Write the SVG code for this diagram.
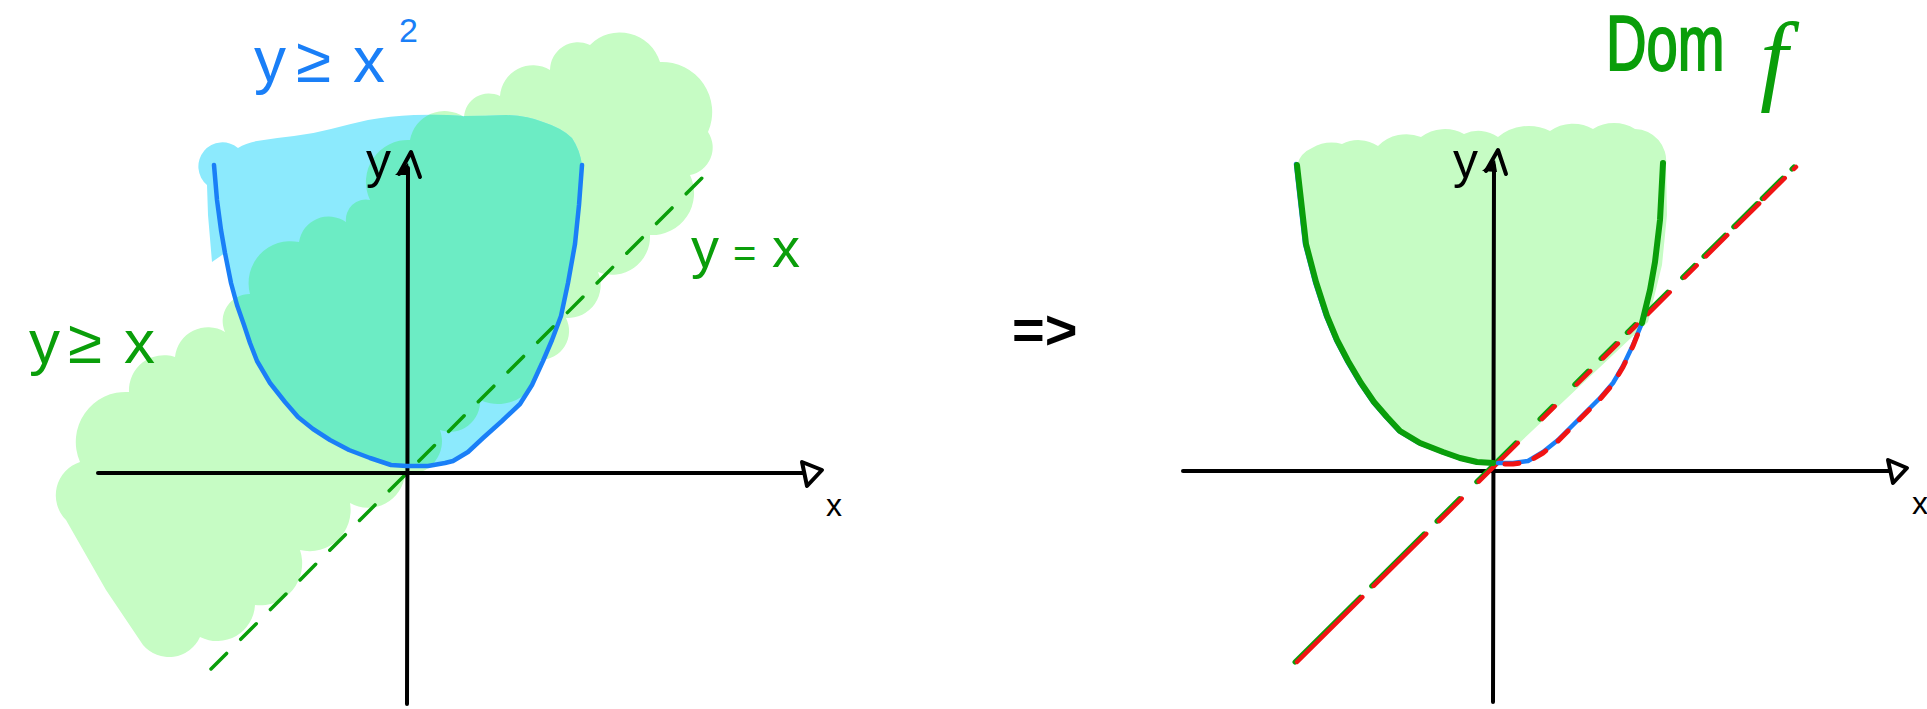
<svg xmlns="http://www.w3.org/2000/svg" width="1927" height="709" viewBox="0 0 1927 709">
<style>
.ax{fill:none;stroke:#000;stroke-width:4;stroke-linecap:round;stroke-linejoin:round}
.blue{fill:none;stroke:#1a7ff7;stroke-width:4.5;stroke-linecap:round;stroke-linejoin:round}
.grn{fill:none;stroke:#0a9e0a;stroke-linecap:round;stroke-linejoin:round}
.red{fill:none;stroke:#f01414;stroke-linecap:round;stroke-linejoin:round}
.t{font-family:"Liberation Sans",Arial,sans-serif}
</style>
<defs>
<path id="blueFill" d="M212,262 L208,215 L207,185 A24,24 0 0 1 238,148 Q246,143 257,141 Q275,138 294,136 Q312,134 331,129 Q350,124 368,120 Q390,116 414,115 Q440,114 464,116 Q486,116 506,115 Q528,116 543,122 Q562,128 572,138 Q580,150 582,165 L579,205 L575,244 L568,283 L561,316 L552,340 L543,361 L532,385 L520,404 L502,421 L483,438 L468,452 L453,461 L445,463 L428,467 L407,467 L391,465 L370,458 L349,450 L330,440 L313,429 L298,417 L285,402 L270,383 L257,361 L250,343 L244,325 L237,305 L231,283 L225,253 Z"/>
<path id="greenBand" d="M143,645 L106,590 L66,520 A35,35 0 0 1 80,462 A50,50 0 0 1 129,392 A35,35 0 0 1 175,357 A33,33 0 0 1 225,332 A27,27 0 0 1 250,294 A42,42 0 0 1 299,242 A30,30 0 0 1 346,222 A20,20 0 0 1 370,200 A42,42 0 0 1 410,140 A35,35 0 0 1 464,117 A25,25 0 0 1 500,96 A33,33 0 0 1 550,70 A28,28 0 0 1 590,45 A42,42 0 0 1 660,62 A50,50 0 0 1 708,132 A28,28 0 0 1 690,175 A42,42 0 0 1 650,235 A38,38 0 0 1 598,272 A33,33 0 0 1 566,318 A29,29 0 0 1 540,360 A42,42 0 0 1 480,400 A30,30 0 0 1 440,430 A33,33 0 0 1 405,474 A37,37 0 0 1 350,503 A41,41 0 0 1 300,550 A42,42 0 0 1 255,605 A38,38 0 0 1 200,637 A34,34 0 0 1 143,645 Z"/>
<clipPath id="blueClip"><use href="#blueFill"/></clipPath>
</defs>

<g id="left-plot">
  <g id="left-regions">
    <use href="#greenBand" fill="#c6fcc4"/>
    <use href="#blueFill" fill="#8ceafd"/>
    <use href="#greenBand" fill="#6cecc4" clip-path="url(#blueClip)"/>
  </g>
  <g id="left-line-yx">
    <line x1="211" y1="669" x2="713" y2="167" class="grn" stroke-width="3.5" stroke-dasharray="22 20"/>
  </g>
  <g id="left-axes">
    <line x1="98" y1="473" x2="803" y2="473" class="ax"/>
    <path d="M802,462 L822,470 L807,486 Z" class="ax" stroke-width="6"/>
    <line x1="407" y1="704" x2="408" y2="168" class="ax"/>
    <path d="M399,174 L411,152 L420,177" class="ax"/>
    <path d="M395,175 L408,163 L410,175 Z" fill="#000"/>
    <text class="t" x="366" y="178" font-size="50" fill="#000">y</text>
    <text class="t" x="826" y="516" font-size="32" fill="#000">x</text>
  </g>
  <g id="left-parabola">
    <path class="blue" d="M214,165 L217,200 L221,230 L225,253 L231,283 L237,305 L244,325 L250,343 L257,361 L270,383 L285,402 L298,417 L313,429 L330,440 L349,450 L370,458 L391,465 L407,466 L428,466 L445,463 L453,461 L468,452 L483,438 L502,421 L520,404 L532,385 L543,361 L552,340 L561,316 L568,283 L575,244 L579,205 L582,165"/>
  </g>
  <g id="left-labels">
    <text class="t" y="82" font-size="64" fill="#1a7ff7"><tspan x="254">y</tspan><tspan x="296">≥</tspan><tspan x="353">x</tspan></text>
    <text class="t" x="399" y="42" font-size="34" fill="#1a7ff7">2</text>
    <text class="t" y="363" font-size="62" fill="#0a9e0a"><tspan x="29">y</tspan><tspan x="68">≥</tspan><tspan x="124">x</tspan></text>
    <text class="t" y="267" font-size="56" fill="#0a9e0a"><tspan x="691">y</tspan><tspan x="733" font-size="40">=</tspan><tspan x="772">x</tspan></text>
  </g>
</g>

<g id="implies">
  <text class="t" x="1012" y="349" font-size="56" font-weight="bold" fill="#000">=&gt;</text>
</g>

<g id="right-plot">
  <g id="right-region">
    <path fill="#c6fcc4" d="M1297,165 A26,26 0 0 1 1312,148 A40,40 0 0 1 1342,144 A36,36 0 0 1 1378,146 A40,40 0 0 1 1421,137 A40,40 0 0 1 1464,134 A34,34 0 0 1 1498,137 A48,48 0 0 1 1550,131 A40,40 0 0 1 1593,129 A40,40 0 0 1 1635,129 A32,32 0 0 1 1666,165 L1667,215 L1662,265 L1648,322 L1499,462 L1493,464 L1477,462 L1460,458 L1443,452 L1420,443 L1400,431 L1387,417 L1374,402 L1361,383 L1348,361 L1337,340 L1327,316 L1316,282 L1306,244 L1301,200 Z"/>
  </g>
  <g id="right-axes">
    <line x1="1183" y1="471" x2="1889" y2="471" class="ax"/>
    <path d="M1888,460 L1907,468 L1893,483 Z" class="ax" stroke-width="6"/>
    <line x1="1493" y1="702" x2="1494" y2="166" class="ax"/>
    <path d="M1486,171 L1498,150 L1506,174" class="ax"/>
    <path d="M1482,171 L1495,160 L1497,172 Z" fill="#000"/>
    <text class="t" x="1453" y="178" font-size="50" fill="#000">y</text>
    <text class="t" x="1912" y="514" font-size="32" fill="#000">x</text>
  </g>
  <g id="right-line-yx">
    <line x1="1295" y1="662" x2="1794" y2="167" class="grn" stroke-width="5" stroke-dasharray="92 16 74 18 32 24 55 34 18 31 19 18 21 16 11 15 31 21 17 13 30 12 33 7 29 13 4 100"/>
    <line x1="1297" y1="662" x2="1796" y2="167" class="red" stroke-width="4.5" stroke-dasharray="92 16 74 18 32 24 55 34 18 31 19 18 21 16 11 15 31 21 17 13 30 12 33 7 29 13 4 100"/>
  </g>
  <g id="right-parabola">
    <path class="blue" d="M1296,164 L1300,200 L1305,244 L1315,282 L1326,316 L1336,340 L1347,361 L1360,383 L1373,402 L1386,417 L1399,431 L1419,443 L1442,452 L1459,458 L1476,462 L1493,463"/>
    <path class="grn" stroke-width="6" d="M1297,165 L1301,200 L1306,244 L1316,282 L1327,316 L1337,340 L1348,361 L1361,383 L1374,402 L1387,417 L1400,431 L1420,443 L1443,452 L1460,458 L1477,462 L1493,463"/>
    <path class="blue" d="M1498,463 L1513,463 L1528,461 L1543,452 L1558,440 L1580,418 L1601,397 L1613,383 L1623,366 L1633,345 L1642,323 L1650,290"/>
    <path class="red" stroke-width="5" stroke-dasharray="14 16" d="M1505,464 L1513,464 L1528,462 L1543,453 L1558,441 L1580,419 L1601,398 L1613,384 L1623,367 L1633,346 L1641,326"/>
    <path class="grn" stroke-width="6" d="M1642,323 L1650,290 L1655,262 L1660,220 L1663,163"/>
  </g>
  <g id="right-label">
    <text class="t" transform="translate(1606,70) scale(0.72,1)" font-size="78" fill="#0a9e0a" stroke="#0a9e0a" stroke-width="2">Dom</text>
    <text x="1760" y="92" font-family="'Liberation Serif',serif" font-style="italic" font-size="100" fill="#0a9e0a">f</text>
  </g>
</g>
</svg>
